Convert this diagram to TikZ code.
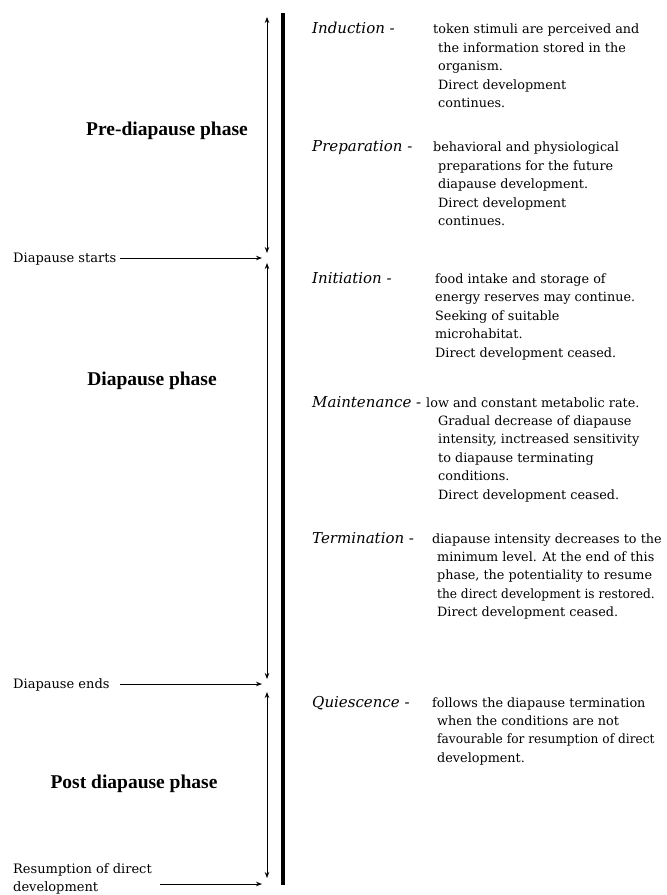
\documentclass[tikz,border=0pt]{standalone}
\usepackage{fontspec}
\setmainfont{Liberation Serif}
\newfontfamily\descfont{DejaVu Serif}
\usetikzlibrary{arrows.meta}
\newcommand{\rows}[1]{\begin{tabular}[t]{@{}l@{}}#1\end{tabular}}
\newcommand{\narrow}[1]{\scalebox{0.95}[1]{#1}}
\begin{document}
\begin{tikzpicture}[x=1pt,y=-1pt,
  tip/.style={-{Stealth[length=6pt,width=4.5pt]}},
  dtip/.style={{Stealth[length=6pt,width=4.5pt]}-{Stealth[length=6pt,width=4.5pt]}},
  thin/.style={line width=0.9pt},
  axis/.style={line width=3.3pt},
  phase/.style={font=\bfseries\fontsize{19.5}{22}\selectfont, anchor=base, inner sep=0pt},
  event/.style={font=\descfont\fontsize{13}{18}\selectfont, anchor=base west, inner sep=0pt},
  lab/.style={font=\descfont\itshape\fontsize{15}{18.6}\selectfont, anchor=base west, inner sep=0pt},
  desc/.style={font=\descfont\fontsize{12.8}{18.6}\selectfont, anchor=base west, inner sep=0pt}]
\useasboundingbox (0,0) rectangle (667,895);
% main axis
\coordinate (t1) at (283,13);
\coordinate (t2) at (283,885);
\draw[axis] (t1) -- (t2);
% phase spans
\coordinate (p1) at (267,17);
\coordinate (p2) at (267,253);
\coordinate (d1) at (267,263);
\coordinate (d2) at (267,679);
\coordinate (q1) at (267,692);
\coordinate (q2) at (267,878);
\draw[thin,dtip] (p1) -- (p2);
\draw[thin,dtip] (d1) -- (d2);
\draw[thin,dtip] (q1) -- (q2);
% phase names
\node[phase] (pre) at (167,135) {Pre-diapause phase};
\node[phase] (dia) at (152,385) {Diapause phase};
\node[phase] (post) at (134,788) {Post diapause phase};
% events
\node[event] (ds) at (13,262) {Diapause starts};
\node[event] (de) at (13,688) {Diapause ends};
\node[event] (rd) at (13,873) {\rows{Resumption of direct\\development}};
\coordinate (ds1) at (120,258);
\coordinate (ds2) at (262,258);
\coordinate (de1) at (120,684);
\coordinate (de2) at (262,684);
\coordinate (rd1) at (160,884);
\coordinate (rd2) at (262,884);
\draw[thin,tip] (ds1) -- (ds2);
\draw[thin,tip] (de1) -- (de2);
\draw[thin,tip] (rd1) -- (rd2);
% stages
\node[lab] (ind) at (312,33) {Induction -};
\node[desc] (ind1) at (433,33) {token stimuli are perceived and};
\node[desc] (ind2) at (438,52) {\rows{the information stored in the\\organism.\\Direct development\\continues.}};
\node[lab] (prep) at (312,151) {Preparation -};
\node[desc] (prep1) at (433,151) {behavioral and physiological};
\node[desc] (prep2) at (438,170) {\rows{preparations for the future\\diapause development.\\Direct development\\continues.}};
\node[lab] (ini) at (312,283) {Initiation -};
\node[desc] (ini1) at (435,283) {\rows{food intake and storage of\\energy reserves may continue.\\Seeking of suitable\\microhabitat.\\Direct development ceased.}};
\node[lab] (mai) at (312,407) {Maintenance -};
\node[desc] (mai1) at (426,407) {low and constant metabolic rate.};
\node[desc] (mai2) at (438,425) {\rows{Gradual decrease of diapause\\intensity, inctreased sensitivity\\to diapause terminating\\conditions.\\Direct development ceased.}};
\node[lab] (ter) at (312,543) {Termination -};
\node[desc] (ter1) at (432,543) {diapause intensity decreases to the};
\node[desc] (ter2) at (437,561) {\rows{minimum level. At the end of this\\phase, the potentiality to resume\\\narrow{the direct development is restored.}\\Direct development ceased.}};
\node[lab] (qui) at (312,707) {Quiescence -};
\node[desc] (qui1) at (432,707) {follows the diapause termination};
\node[desc] (qui2) at (437,725) {\rows{when the conditions are not\\\narrow{favourable for resumption of direct}\\development.}};
\end{tikzpicture}
\end{document}
